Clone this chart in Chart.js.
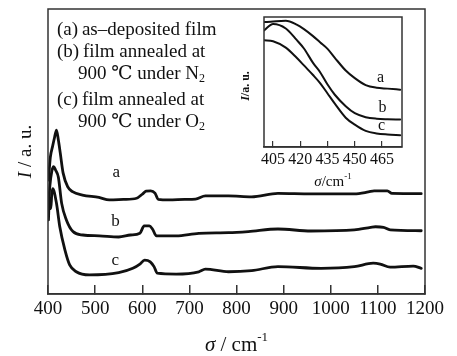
<!DOCTYPE html>
<html>
<head>
<meta charset="utf-8">
<script src="https://cdn.jsdelivr.net/npm/chart.js@4/dist/chart.umd.min.js"></script>
<style>
  html, body { margin: 0; padding: 0; background: #fff; }
  #wrap { position: relative; width: 457px; height: 356px; }
  #main { position: absolute; left: 0; top: 0; }
  #inset { position: absolute; left: 236px; top: 0; }
</style>
</head>
<body>
<div id="wrap">
  <canvas id="main" width="457" height="356"></canvas>
  <canvas id="inset" width="170" height="200"></canvas>
</div>
<script>
/*********************************
 DATA
*********************************/
const curveNames = ["a", "b", "c"];
const mainTicks = [400, 500, 600, 700, 800, 900, 1000, 1100, 1200];
const insetTicks = [405, 420, 435, 450, 465];

// main spectra (raman shift / intensity, a.u.)
const aShift = [401, 405, 410, 414, 418, 422, 426, 432, 442, 452, 473, 508, 530, 560, 588, 600, 608, 618, 627, 634, 657, 690, 713, 734, 783, 832, 888, 958, 1050, 1080, 1092, 1120, 1130, 1192];
const aInt   = [40, 48, 52, 55, 57.5, 54, 49.5, 42.5, 37.6, 35.9, 34.7, 33.9, 33, 33.2, 33.6, 35, 36.1, 36.2, 35.4, 33.2, 33, 33.2, 33.3, 34.4, 34.4, 34.1, 35.3, 35.1, 35.1, 35.8, 36.2, 36.2, 35.3, 35.2];

const bShift = [401, 404, 408, 412, 416, 422, 429, 439, 453, 474, 509, 550, 575, 595, 604, 615, 622, 630, 672, 720, 783, 825, 888, 958, 1050, 1085, 1095, 1112, 1126, 1192];
const bInt   = [30, 38, 43, 44.7, 43.5, 41, 31.8, 26, 21.9, 20.7, 20.4, 20, 20.7, 21.3, 23.9, 23.9, 22.7, 20.4, 20.4, 21.3, 21.5, 21.9, 22.8, 22.1, 22.5, 23.4, 23.6, 23.4, 22.5, 22.2];

const cShift = [401, 403, 406, 408, 410, 418, 425, 436, 446, 460, 488, 550, 580, 595, 605, 617, 625, 632, 672, 720, 734, 783, 832, 888, 980, 1050, 1090, 1105, 1126, 1175, 1192];
const cInt   = [26, 33.7, 30, 35, 37, 31.8, 23.6, 15.4, 10.2, 7.8, 6.7, 7.5, 9, 10.5, 11.9, 11.3, 9.6, 7.3, 7, 7.8, 8.7, 7.8, 8.2, 9.6, 9, 9.6, 10.8, 10.5, 9.4, 9.8, 9];

// inset (400-476 cm-1 zoom)
const insetShift = [400, 405, 412, 418, 422, 427, 431, 435, 439, 445, 450, 456, 462, 468, 475];
const insetA = [98, 98.5, 99, 96, 92.5, 87, 82, 77, 70, 60, 54, 48.6, 46.5, 45.8, 45];
const insetB = [91.5, 96.5, 93, 84, 77.3, 66, 58.5, 49, 41, 32, 26.5, 23.4, 22.2, 21.8, 21.6];
const insetC = [83.8, 83, 78, 70, 64, 56.5, 50, 42, 34, 23, 17.5, 12.6, 10.6, 9.8, 9.3];

// where the a/b/c labels sit (data coords)
const mainLabelAt = [[545, 42.5], [543, 25.3], [543, 11.9]];
const insetLabelAt = [[464.2, 54], [465.2, 30.8], [464.7, 17]];

/*********************************
 HELPERS
*********************************/
const SERIF = '"Liberation Serif", "DejaVu Serif", serif';
const INK = "#111";

function toPoints(xs, ys) {
  return xs.map((v, i) => ({ x: v, y: ys[i] }));
}

function curve(xs, ys, w) {
  return {
    data: toPoints(xs, ys),
    showLine: true,
    borderColor: INK,
    borderWidth: w,
    pointRadius: 0,
    cubicInterpolationMode: "monotone",
    borderJoinStyle: "round",
    borderCapStyle: "round"
  };
}

// parts: [text, style]  style: "" | "i" | "sup" | "sub" | "b" | "bi"
function rich(ctx, x, y, parts, size, align) {
  const font = s => {
    const small = s === "sup" || s === "sub";
    const it = s === "i" || s === "bi" ? "italic " : "";
    const bd = s === "b" || s === "bi" ? "bold " : "";
    return it + bd + (small ? Math.round(size * 0.62) : size) + "px " + SERIF;
  };
  let w = 0;
  parts.forEach(([t, s]) => { ctx.font = font(s); w += ctx.measureText(t).width; });
  let cx = align === "center" ? x - w / 2 : x;
  ctx.textAlign = "left";
  parts.forEach(([t, s]) => {
    ctx.font = font(s);
    const dy = s === "sup" ? -size * 0.36 : s === "sub" ? size * 0.28 : 0;
    ctx.fillText(t, cx, y + dy);
    cx += ctx.measureText(t).width;
  });
}

const frame = {
  id: "frame",
  afterDraw(chart, args, opts) {
    const { ctx, chartArea: a } = chart;
    ctx.save();
    ctx.strokeStyle = opts.color;
    ctx.lineWidth = opts.width;
    ctx.strokeRect(a.left, a.top, a.right - a.left, a.bottom - a.top);
    ctx.restore();
  }
};

/*********************************
 MAIN CHART
*********************************/
const mainText = {
  id: "mainText",
  afterDraw(chart) {
    const { ctx, scales: { x, y } } = chart;
    ctx.save();
    ctx.fillStyle = INK;
    ctx.textBaseline = "middle";

    curveNames.forEach((n, i) => {
      ctx.font = "17px " + SERIF;
      ctx.textAlign = "center";
      ctx.fillText(n, x.getPixelForValue(mainLabelAt[i][0]), y.getPixelForValue(mainLabelAt[i][1]));
    });

    // legend text
    rich(ctx, 57, 30, [["(a)\u2009as\u2013deposited film", ""]], 19);
    rich(ctx, 57, 52, [["(b)\u2009film annealed at", ""]], 19);
    rich(ctx, 78, 74, [["900 \u2103 under N", ""], ["2", "sub"]], 19);
    rich(ctx, 57, 100, [["(c)\u2009film annealed at", ""]], 19);
    rich(ctx, 78, 122, [["900 \u2103 under O", ""], ["2", "sub"]], 19);

    // axis titles
    rich(ctx, (x.left + x.right) / 2, 345, [["\u03c3", "i"], [" / cm", ""], ["-1", "sup"]], 21, "center");
    ctx.translate(26, (y.top + y.bottom) / 2);
    ctx.rotate(-Math.PI / 2);
    rich(ctx, 0, 0, [["I", "i"], [" / a. u.", ""]], 19, "center");
    ctx.restore();
  }
};

new Chart(document.getElementById("main"), {
  type: "scatter",
  data: {
    datasets: [curve(aShift, aInt, 2.8), curve(bShift, bInt, 2.8), curve(cShift, cInt, 2.8)]
  },
  options: {
    responsive: false,
    animation: false,
    layout: { padding: { left: 48, right: 29, top: 9, bottom: 0 } },
    plugins: {
      legend: { display: false },
      tooltip: { enabled: false },
      frame: { color: "#333", width: 1.5 }
    },
    scales: {
      x: {
        type: "linear",
        min: 400,
        max: 1200,
        afterBuildTicks: s => { s.ticks = mainTicks.map(v => ({ value: v })); },
        afterFit: s => { s.height = 62; },
        grid: { drawOnChartArea: false, tickLength: -9, color: "#333", lineWidth: 1.5 },
        border: { color: "#333", width: 1.5 },
        ticks: {
          padding: 13,
          autoSkip: false,
          maxRotation: 0,
          color: INK,
          font: { family: SERIF, size: 19 },
          callback: v => String(v)
        }
      },
      y: { display: false, min: 0, max: 100 }
    }
  },
  plugins: [frame, mainText]
});

/*********************************
 INSET
*********************************/
const insetText = {
  id: "insetText",
  afterDraw(chart) {
    const { ctx, scales: { x, y } } = chart;
    ctx.save();
    ctx.fillStyle = INK;
    ctx.textBaseline = "middle";
    curveNames.forEach((n, i) => {
      ctx.font = "16px " + SERIF;
      ctx.textAlign = "center";
      ctx.fillText(n, x.getPixelForValue(insetLabelAt[i][0]), y.getPixelForValue(insetLabelAt[i][1]));
    });
    rich(ctx, (x.left + x.right) / 2, 182, [["\u03c3", "i"], ["/cm", ""], ["-1", "sup"]], 15, "center");
    ctx.translate(10, 86);
    ctx.rotate(-Math.PI / 2);
    rich(ctx, 0, 0, [["I", "bi"], ["/a. u.", "b"]], 12, "center");
    ctx.restore();
  }
};

new Chart(document.getElementById("inset"), {
  type: "scatter",
  data: {
    datasets: [curve(insetShift, insetA, 2), curve(insetShift, insetB, 2), curve(insetShift, insetC, 2)]
  },
  options: {
    responsive: false,
    animation: false,
    layout: { padding: { left: 28, right: 4, top: 17, bottom: 0 } },
    plugins: {
      legend: { display: false },
      tooltip: { enabled: false },
      frame: { color: "#333", width: 1.5 }
    },
    scales: {
      x: {
        type: "linear",
        min: 400,
        max: 476,
        afterBuildTicks: s => { s.ticks = insetTicks.map(v => ({ value: v })); },
        afterFit: s => { s.height = 53; },
        grid: { drawOnChartArea: false, tickLength: -6, color: "#333", lineWidth: 1.2 },
        border: { color: "#333", width: 1.5 },
        ticks: {
          padding: 9,
          autoSkip: false,
          maxRotation: 0,
          color: INK,
          font: { family: SERIF, size: 16 },
          callback: v => String(v)
        }
      },
      y: { display: false, min: 0, max: 102 }
    }
  },
  plugins: [frame, insetText]
});
</script>
</body>
</html>
